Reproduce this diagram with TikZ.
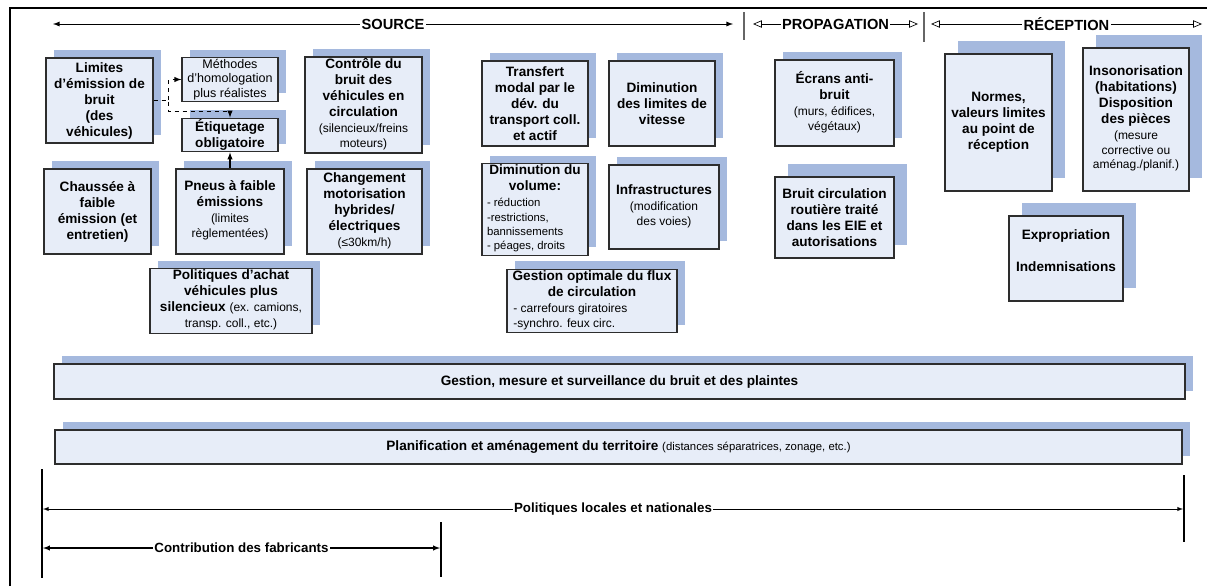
\documentclass[tikz,border=0pt]{standalone}
\usepackage{fontspec}
\setmainfont{Liberation Sans}
\usepackage{xcolor}
\usepackage{tikz}
\usetikzlibrary{shapes, arrows, shadows}

\definecolor{boxfill}{RGB}{231,237,248}
\definecolor{boxshade}{RGB}{165,185,222}
\definecolor{boxline}{RGB}{45,45,45}

\newcommand{\normtxt}{\mdseries\fontsize{9}{11}\selectfont}
\newcommand{\listtxt}{\mdseries\fontsize{8.5}{10.7}\selectfont}
% plain lines under a bold title
\newcommand{\petit}[1]{{\normtxt\begin{tabular}[t]{@{}c@{}}#1\end{tabular}}}

\tikzset{
  box/.style={draw=boxline, fill=boxfill, line width=0.9pt, align=center, inner sep=1pt,
    font=\bfseries\fontsize{10.2}{12}\selectfont,
    copy shadow={shadow xshift=#1, shadow yshift=#1, fill=boxshade, draw=none}},
  box/.default=6pt,
  boxsize/.style 2 args={minimum width=#1*0.75pt, minimum height=#2*0.75pt},
  heading/.style={fill=white, inner sep=1pt, font=\bfseries\fontsize{11}{13}\selectfont},
  barlabel/.style={fill=white, inner sep=1pt, font=\bfseries\fontsize{10}{12}\selectfont},
  bar/.style={line width=2.2pt},
}

\begin{document}
\begin{tikzpicture}[x=0.75pt,y=0.75pt,yscale=-1,xscale=1]
\useasboundingbox (0,0) rectangle (1207,586);

% frame
\draw [line width=1.3pt] (10,586) -- (10,8) -- (1207,8) ;

% headings
\coordinate (srcL) at (53,24);
\coordinate (srcR) at (733,24);
\coordinate (propL) at (753,24);
\coordinate (propR) at (918,24);
\coordinate (recL) at (931,24);
\coordinate (recR) at (1202,24);
\draw [latex-latex, line width=0.7pt] (srcL) -- node [heading] (source) {SOURCE} (srcR) ;
\draw [open triangle 45-open triangle 45, line width=0.5pt] (propL) -- node [heading] (propag) {PROPAGATION} (propR) ;
\draw [open triangle 45-open triangle 45, line width=0.5pt] (recL) -- node [heading] (recep) {RÉCEPTION} (recR) ;
\draw [black!60, line width=0.8pt] (744,12) -- (744,40) ;
\draw [black!60, line width=0.8pt] (924,12) -- (924,42) ;

% source, left column
\node [box, boxsize={107}{85}] (limites) at (99.5,100.5) {Limites\\d’émission de\\bruit\\(des\\véhicules)};
\node [box, boxsize={96}{43}, font=\mdseries\fontsize{9.4}{10.9}\selectfont] (methodes) at (230,79.5) {Méthodes\\d’homologation\\plus réalistes};
\node [box, boxsize={96}{26}] (etiquetage) at (230,135) {Étiquetage\\obligatoire};
\node [box, boxsize={117}{94}] (controle) at (363.5,105) {Contrôle du\\bruit des\\véhicules en\\circulation\\\petit{(silencieux/freins\\moteurs)}};
\node [box, boxsize={107}{85}] (chaussee) at (97.5,211.5) {Chaussée à\\faible\\émission (et\\entretien)};
\node [box, boxsize={108}{85}] (pneus) at (230,211.5) {Pneus à faible\\émissions\\\petit{(limites\\règlementées)}};
\node [box, boxsize={115}{85}] (changement) at (364.5,211.5) {Changement\\motorisation\\hybrides/\\électriques\\\petit{(≤30km/h)}};
\node [box, boxsize={162}{60}] (achat) at (231,301) {Politiques d’achat\\véhicules plus\\silencieux {\normtxt(ex. camions,}\\\petit{transp. coll., etc.)}};

% source, right column
\node [box, boxsize={106}{85}] (transfert) at (535,103.5) {Transfert\\modal par le\\dév. du\\transport coll.\\et actif};
\node [box, boxsize={106}{85}] (vitesse) at (662,103.5) {Diminution\\des limites de\\vitesse};
\node [box, boxsize={106}{85}] (volume) at (535,209.5) {Diminution du\\volume:\\\listtxt\begin{tabular}[t]{@{}p{72pt}@{}}- réduction\\-restrictions,\\bannissements\\- péages, droits\end{tabular}};
\node [box, boxsize={110}{84}] (infra) at (664,207) {Infrastructures\\\petit{(modification\\des voies)}};
\node [box, boxsize={170}{60}] (flux) at (592,301) {Gestion optimale du flux\\de circulation\\\normtxt\begin{tabular}[t]{@{}p{118pt}@{}}- carrefours giratoires\\-synchro. feux circ.\end{tabular}};

% propagation
\node [box, boxsize={119}{86}] (ecrans) at (834.5,103) {Écrans anti-\\bruit\\\petit{(murs, édifices,\\végétaux)}};
\node [box=10pt, boxsize={119}{81}] (eie) at (834.5,217.5) {Bruit circulation\\routière traité\\dans les EIE et\\autorisations};

% reception
\node [box=10pt, boxsize={107}{137}] (normes) at (998.5,122.5) {Normes,\\valeurs limites\\au point de\\réception};
\node [box=10pt, boxsize={106}{143}] (insono) at (1136,119.5) {Insonorisation\\(habitations)\\Disposition\\des pièces\\\petit{(mesure\\corrective ou\\aménag./planif.)}};
\node [box=10pt, boxsize={114}{85}] (expro) at (1066,258.5) {Expropriation\\\mbox{}\\Indemnisations\\\mbox{}};

% links
\draw [dashed, -latex, line width=0.8pt] (limites.east) -- ++(15,0) |- (methodes.west) ;
\draw [dashed, -latex, line width=0.8pt] (limites.east) -- ++(15,0) -- ++(0,11) -| (etiquetage.north) ;
\draw [-latex, line width=0.8pt] (pneus.north) -- (etiquetage.south) ;

% transversal bars
\node [box, boxsize={1131}{35}] (gestion) at (619.5,381.5) {Gestion, mesure et surveillance du bruit et des plaintes};
\node [box, boxsize={1127}{34}] (planif) at (618.5,447) {Planification et aménagement du territoire {\mdseries\fontsize{8.5}{10}\selectfont(distances séparatrices, zonage, etc.)}};

% policies
\coordinate (polTop) at (42,469);
\coordinate (polBot) at (42,578);
\coordinate (polRTop) at (1184,475);
\coordinate (polRBot) at (1184,542);
\coordinate (fabTop) at (441,522);
\coordinate (fabBot) at (441,577);
\draw [bar] (polTop) -- (polBot) ;
\draw [bar] (polRTop) -- (polRBot) ;
\draw [bar] (fabTop) -- (fabBot) ;
\coordinate (polL) at (43,509);
\coordinate (polR) at (1183,509);
\coordinate (fabL) at (43,548);
\coordinate (fabR) at (440,548);
\draw [latex-latex, line width=0.5pt] (polL) -- node [barlabel] (politiques) {Politiques locales et nationales} (polR) ;
\draw [latex-latex, line width=0.8pt] (fabL) -- node [barlabel] (fabricants) {Contribution des fabricants} (fabR) ;

\end{tikzpicture}
\end{document}
